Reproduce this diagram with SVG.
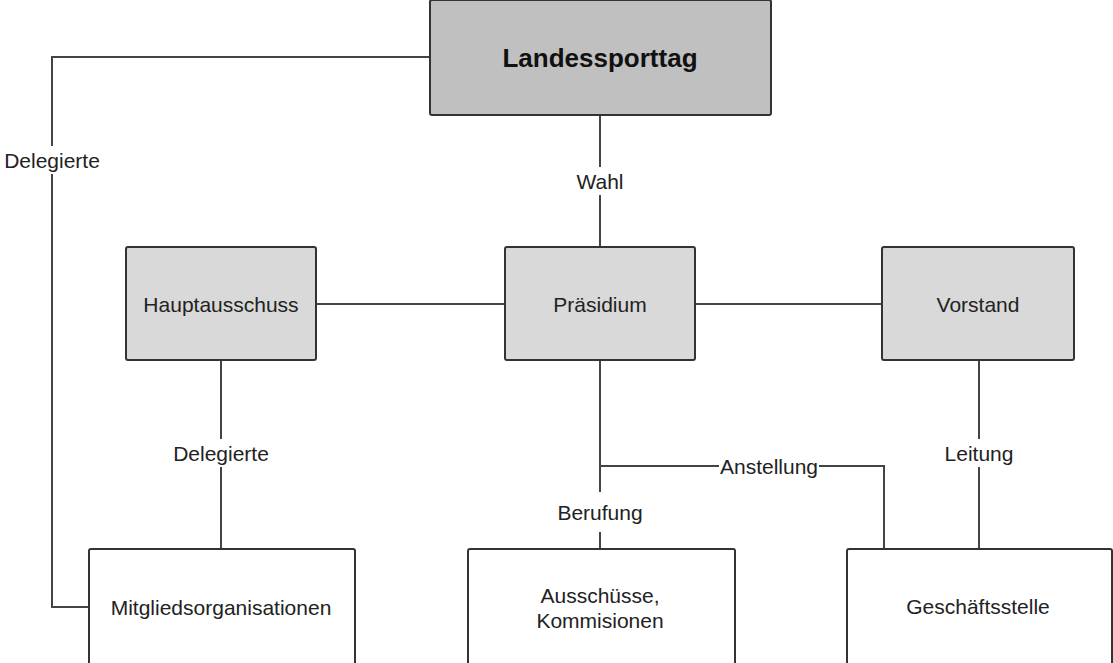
<svg xmlns="http://www.w3.org/2000/svg" width="1113" height="663" viewBox="0 0 1113 663">
<style>
.box{stroke:#333;stroke-width:2}
.top{fill:#c0c0c0}
.mid{fill:#d9d9d9}
.low{fill:#fff}
.t{font-family:"Liberation Sans",Arial,sans-serif;font-size:21px;fill:#222;text-anchor:middle;dominant-baseline:central}
.b{font-weight:bold;font-size:26px;fill:#111}
.c line,.c polyline{stroke:#444;stroke-width:2;fill:none}
.lbl{fill:#fff}
</style>
<rect width="1113" height="663" fill="#fff"/>
<g id="connectors" class="c">
<polyline points="430,57 52,57 52,607 89,607"/>
<line x1="600" y1="115" x2="600" y2="247"/>
<line x1="316" y1="304" x2="505" y2="304"/>
<line x1="695" y1="304" x2="882" y2="304"/>
<line x1="221" y1="360" x2="221" y2="549"/>
<line x1="600" y1="360" x2="600" y2="549"/>
<polyline points="600,466 884,466 884,549"/>
<line x1="979" y1="360" x2="979" y2="549"/>
<rect class="lbl" x="2" y="146" width="100" height="28"/>
<text class="t" x="52" y="160">Delegierte</text>
<rect class="lbl" x="570" y="167" width="60" height="28"/>
<text class="t" x="600" y="181">Wahl</text>
<rect class="lbl" x="170" y="439" width="102" height="28"/>
<text class="t" x="221" y="453">Delegierte</text>
<rect class="lbl" x="552" y="492" width="96" height="40"/>
<text class="t" x="600" y="512">Berufung</text>
<rect class="lbl" x="719" y="454" width="100" height="24"/>
<text class="t" x="769" y="466">Anstellung</text>
<rect class="lbl" x="940" y="439" width="78" height="28"/>
<text class="t" x="979" y="453">Leitung</text>
</g>
<g id="landessporttag">
<rect class="box top" x="430" y="0" width="341" height="115" rx="2"/>
<text class="t b" x="600" y="58">Landessporttag</text>
</g>
<g id="hauptausschuss">
<rect class="box mid" x="126" y="247" width="190" height="113" rx="2"/>
<text class="t" x="221" y="304">Hauptausschuss</text>
</g>
<g id="praesidium">
<rect class="box mid" x="505" y="247" width="190" height="113" rx="2"/>
<text class="t" x="600" y="304">Präsidium</text>
</g>
<g id="vorstand">
<rect class="box mid" x="882" y="247" width="192" height="113" rx="2"/>
<text class="t" x="978" y="304">Vorstand</text>
</g>
<g id="mitgliedsorganisationen">
<rect class="box low" x="89" y="549" width="266" height="120" rx="2"/>
<text class="t" x="221" y="607">Mitgliedsorganisationen</text>
</g>
<g id="ausschuesse">
<rect class="box low" x="468" y="549" width="267" height="120" rx="2"/>
<text class="t" x="600" y="595">Ausschüsse,</text>
<text class="t" x="600" y="620">Kommisionen</text>
</g>
<g id="geschaeftsstelle">
<rect class="box low" x="847" y="549" width="265" height="120" rx="2"/>
<text class="t" x="978" y="606">Geschäftsstelle</text>
</g>
</svg>
